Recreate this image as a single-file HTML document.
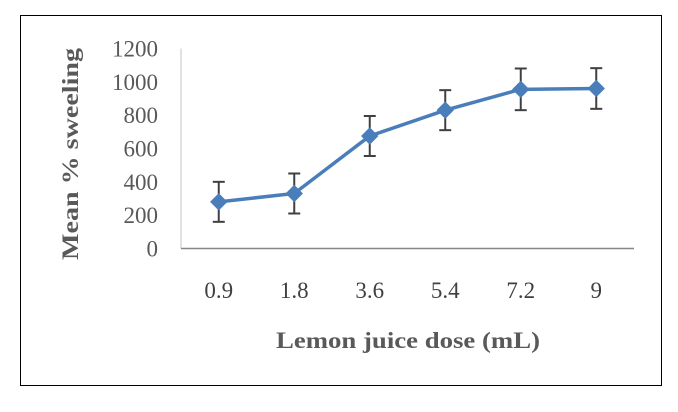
<!DOCTYPE html>
<html><head><meta charset="utf-8"><style>
body{margin:0;background:#fff;width:678px;height:407px;overflow:hidden}
svg text{font-family:"Liberation Serif",serif}
</style></head><body>
<svg width="678" height="407">
<rect x="20.5" y="15.5" width="641" height="370" fill="#fff" stroke="#000" stroke-width="1"/>
<g id="axes"></g>
<g id="marks"></g>
<text x="408" y="348" text-anchor="middle" font-size="23" font-weight="bold" fill="#595959" textLength="264" lengthAdjust="spacingAndGlyphs">Lemon juice dose (mL)</text>
<text transform="translate(78,154) rotate(-90)" text-anchor="middle" font-size="23" font-weight="bold" fill="#595959" textLength="212" lengthAdjust="spacingAndGlyphs">Mean % sweeling</text>
</svg>
<script>
const categories=["0.9","1.8","3.6","5.4","7.2","9"];
const values=[280,330,675,830,955,960];
const errors=[120,120,120,120,125,122];
const yTicks=[0,200,400,600,800,1000,1200];
const NS="http://www.w3.org/2000/svg";
const x0=181,x1=634,y0=248.5,y1=48.5,yMax=1200;
const step=(x1-x0)/categories.length;
function xs(i){return x0+step*(i+0.5);}
function ys(v){return y0-(v/yMax)*(y0-y1);}
function mk(tag,attrs,parent){const e=document.createElementNS(NS,tag);for(const k in attrs)e.setAttribute(k,attrs[k]);parent.appendChild(e);return e;}
const axes=document.getElementById('axes'),marks=document.getElementById('marks');
let e=mk('line',{x1:x0,y1:y1,x2:x0,y2:y0,stroke:'#d9d9d9','stroke-width':1.5},axes);


e=mk('line',{x1:x0,y1:y0,x2:x1,y2:y0,stroke:'#868686','stroke-width':1.5},axes);


yTicks.forEach(t=>{const tx=mk('text',{x:158,y:ys(t)+8,'text-anchor':'end','font-size':23,fill:'#595959'},axes);tx.textContent=t;

});
categories.forEach((c,i)=>{const tx=mk('text',{x:xs(i),y:298,'text-anchor':'middle','font-size':23,fill:'#404040'},axes);tx.textContent=c;

});
const pts=values.map((v,i)=>xs(i)+','+ys(v)).join(' ');
e=mk('polyline',{points:pts,fill:'none',stroke:'#4a7ebb','stroke-width':3.5},marks);


values.forEach((v,i)=>{const x=xs(i);const a=ys(v+errors[i]),b=ys(v-errors[i]);
const g=mk('g',{stroke:'#404040','stroke-width':2},marks);


mk('line',{x1:x,y1:a,x2:x,y2:b},g);mk('line',{x1:x-6,y1:a,x2:x+6,y2:a},g);mk('line',{x1:x-6,y1:b,x2:x+6,y2:b},g);});
values.forEach((v,i)=>{const x=xs(i),y=ys(v),r=8;
const p=mk('polygon',{points:`${x},${y-r} ${x+r},${y} ${x},${y+r} ${x-r},${y}`,fill:'#4a7ebb',stroke:'#4a7ebb'},marks);

});
</script>
</body></html>
